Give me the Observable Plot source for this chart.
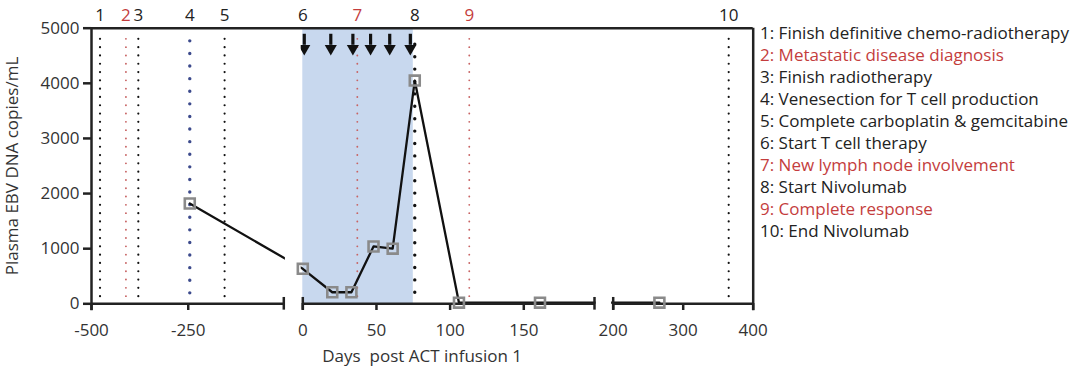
<!DOCTYPE html>
<html><head><meta charset="utf-8">
<script src="https://cdn.jsdelivr.net/npm/d3@7"></script>
<script src="https://cdn.jsdelivr.net/npm/@observablehq/plot@0.6"></script>
<style>
body{margin:0;background:#fff;}
#wrap{position:relative;width:1080px;height:371px;font-family:"Open Sans", sans-serif;}
#legend{position:absolute;left:760px;top:22px;font-size:17px;line-height:22px;color:#222;white-space:nowrap;}
#legend .red{color:#c43d3d;}
</style></head><body><div id="wrap"><div id="legend"></div></div>
<script>
// ---- data ----
const eventNumbers = ["1","2","3","4","5","6","7","8","9","10"];
const eventDays = [-478, -411, -379, -246, -156, 0, 37, 76, 113, 365];
const eventLabels = [
  "Finish definitive chemo-radiotherapy",
  "Metastatic disease diagnosis",
  "Finish radiotherapy",
  "Venesection for T cell production",
  "Complete carboplatin & gemcitabine",
  "Start T cell therapy",
  "New lymph node involvement",
  "Start Nivolumab",
  "Complete response",
  "End Nivolumab"
];
const eventRed = [false, true, false, false, false, false, true, false, true, false];
const eventLineStyle = ["fine", "red", "fine", "blue", "fine", "none", "red", "bold", "red", "fine"];

const sampleDays = [-246, 0, 20, 33, 48, 61, 76, 106, 161, 266];
const ebvValues = [1820, 635, 210, 210, 1040, 1000, 4050, 20, 20, 20];

const infusionDays = [1, 19, 34, 46, 59, 73];
const therapyWindow = [0, 75];

const xTickValues = [-500, -250, 0, 50, 100, 150, 200, 300, 400];
const yTickValues = [0, 1000, 2000, 3000, 4000, 5000];
// broken axis: segment ends (days)
const axisSegments = [[-500, -3], [0, 198], [200, 400]];

// ---- tables ----
const events = eventNumbers.map((n, i) => ({n, day: eventDays[i], label: eventLabels[i], red: eventRed[i], style: eventLineStyle[i]}));
const samples = sampleDays.map((d, i) => ({day: d, value: ebvValues[i]}));
const gaps = axisSegments.slice(1).map((s, i) => ({x1: axisSegments[i][1], x2: s[0]}));
const caps = axisSegments.flatMap((s, i) => i === 0 ? [s[1]] : i === axisSegments.length - 1 ? [s[0]] : [s[0], s[1]]);

const ink = "#222";
const red = "#c43d3d";
const fine = events.filter(e => e.style === "fine");
const reds = events.filter(e => e.style === "red");
const blue = events.filter(e => e.style === "blue");
const bold = events.filter(e => e.style === "bold");

const chart = Plot.plot({
  width: 1080,
  height: 371,
  marginLeft: 91, marginRight: 328, marginTop: 28, marginBottom: 68,
  style: {fontFamily: "'Open Sans', sans-serif", fontSize: "17px", color: ink, background: "white", overflow: "visible"},
  x: {type: "linear", domain: [-500, -3, 0, 198, 200, 400], range: [91, 283.3, 302.3, 594, 612.7, 752.7]},
  y: {domain: [0, 5000], range: [303.3, 27.7]},
  marks: [
    Plot.rect([therapyWindow], {x1: d => d[0], x2: d => d[1], y1: 0, y2: 5000, fill: "#c8d8ee"}),
    Plot.ruleX(fine, {x: "day", y1: 130, y2: 4870, stroke: "#111", strokeWidth: 2.2, strokeDasharray: "0 8.3", strokeLinecap: "round"}),
    Plot.ruleX(reds, {x: "day", y1: 130, y2: 4870, stroke: "#c86464", strokeWidth: 1.9, strokeDasharray: "0 8.3", strokeLinecap: "round"}),
    Plot.ruleX(blue, {x: "day", y1: 190, y2: 4780, stroke: "#3c4a8c", strokeWidth: 3.4, strokeDasharray: "0 12.6", strokeLinecap: "round"}),
    Plot.ruleX(bold, {x: "day", y1: 200, y2: 4870, stroke: "#111", strokeWidth: 3.4, strokeDasharray: "0 12.4", strokeLinecap: "round"}),
    Plot.ruleX(infusionDays, {x: d => d, y1: 4890, y2: 4690, stroke: "#111", strokeWidth: 3.2}),
    Plot.dot(infusionDays, {x: d => d, y: 4630, symbol: "triangle", rotate: 180, r: 4.5, fill: "#111", stroke: "none"}),
    Plot.line(samples, {x: "day", y: "value", stroke: "#111", strokeWidth: 2.3}),
    Plot.rect(gaps, {x1: "x1", x2: "x2", y1: -400, y2: 4960, fill: "white", insetLeft: 1.6, insetRight: 1.6}),
    Plot.ruleY([5000], {x1: -500, x2: 400, stroke: ink, strokeWidth: 2.5}),
    Plot.ruleX([-500, 400], {x: d => d, y1: -127, y2: 5000, stroke: ink, strokeWidth: 2.5}),
    Plot.ruleY(axisSegments, {x1: d => d[0], x2: d => d[1], y: 0, stroke: ink, strokeWidth: 2.5}),
    Plot.ruleX(caps, {x: d => d, y1: -115, y2: 115, stroke: ink, strokeWidth: 2.5}),
    Plot.axisX({ticks: xTickValues, tickSize: 7, tickPadding: 13, tickFormat: d => String(d), stroke: ink, strokeWidth: 2.5, fontSize: 17, fill: "#333", label: null}),
    Plot.axisY({ticks: yTickValues, tickSize: 8, tickPadding: 4, tickFormat: d => String(d), stroke: ink, strokeWidth: 2.5, fontSize: 17, fill: "#333",
      label: "Plasma EBV DNA copies/mL", labelAnchor: "center", labelOffset: 86, labelArrow: "none"}),
    Plot.dot(samples, {x: "day", y: "value", symbol: "square", r: 5.6, stroke: "#8a8a8a", strokeWidth: 2.6, fill: "none"}),
    Plot.text(events, {x: "day", y: 5000, dy: -13, text: "n", fill: d => d.red ? red : ink, fontSize: 17}),
    Plot.text(["Days\u00a0 post ACT infusion 1"], {x: 81, y: 0, dy: 53, text: d => d, fontSize: 17, fill: "#333"})
  ]
});
document.getElementById("wrap").prepend(chart);
chart.style.position = "absolute"; chart.style.left = "0"; chart.style.top = "0";

const legend = d3.select("#legend");
legend.selectAll("div").data(events).join("div")
  .attr("class", d => d.red ? "red" : null)
  .text(d => `${d.n}: ${d.label}`);
</script>
</body></html>
